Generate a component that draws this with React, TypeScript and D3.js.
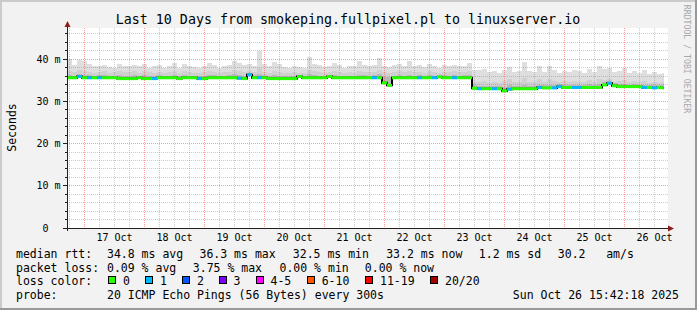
import React from "react";
import * as d3 from "d3";

// ---------- data ----------
const HOUR = 3600e3;
const startTime = Date.UTC(2025, 9, 16, 17, 0, 0);
const endTime = Date.UTC(2025, 9, 26, 17, 0, 0);
const nowTime = Date.UTC(2025, 9, 26, 15, 42, 18);
const stepHours = 2;

const titleText = "Last 10 Days from smokeping.fullpixel.pl to linuxserver.io";
const yTicks = [0, 10, 20, 30, 40];
const yTickLabels = ["0", "10 m", "20 m", "30 m", "40 m"];
const dayLabels = ["17 Oct", "18 Oct", "19 Oct", "20 Oct", "21 Oct", "22 Oct", "23 Oct", "24 Oct", "25 Oct", "26 Oct"];

// median rtt (ms) per 2h step
const median = [
  35.6, 35.6, 35.9, 35.6, 35.6, 35.6, 35.6, 35.6, 35.6, 35.6,
  35.4, 35.4, 35.4, 35.4, 35.6, 35.4, 35.4, 35.4, 35.6, 35.6,
  35.6, 35.6, 35.4, 35.6, 35.6, 35.6, 35.4, 35.4, 35.6, 35.6,
  35.6, 35.6, 35.6, 35.6, 35.5, 35.4, 36.3, 35.6, 35.6, 35.6,
  35.4, 35.4, 35.4, 35.4, 35.4, 35.4, 35.9, 35.6, 35.6, 35.6,
  35.6, 35.6, 35.9, 35.6, 35.6, 35.6, 35.6, 35.6, 35.6, 35.6,
  35.6, 35.6, 35.6, 34.4, 33.8, 35.6, 35.6, 35.6, 35.6, 35.6,
  35.6, 35.6, 35.6, 35.6, 35.8, 35.6, 35.6, 35.6, 35.6, 35.6,
  35.6, 33.1, 33.0, 33.0, 33.0, 33.0, 33.0, 32.5, 32.9, 33.0,
  33.0, 33.0, 33.0, 33.0, 33.3, 33.2, 33.2, 33.2, 33.5, 33.3,
  33.3, 33.3, 33.3, 33.3, 33.3, 33.3, 33.3, 33.9, 34.3, 33.7,
  33.5, 33.5, 33.5, 33.5, 33.5, 33.3, 33.3, 33.2, 33.3, 33.2,
];
// smoke: highest ping (ms)
const smokeMax = [
  40.0, 38.6, 39.9, 39.6, 38.8, 38.3, 38.5, 38.6, 38.2, 38.0,
  38.9, 38.5, 38.4, 38.7, 38.3, 38.8, 38.0, 38.3, 38.6, 37.9,
  38.4, 39.1, 37.9, 38.8, 38.3, 38.1, 37.9, 38.3, 39.0, 38.6,
  38.0, 38.5, 38.7, 39.6, 39.2, 38.6, 38.9, 38.4, 42.0, 38.8,
  38.3, 39.4, 38.9, 38.2, 37.9, 38.4, 38.2, 38.0, 40.6, 38.9,
  38.7, 38.1, 38.5, 39.0, 38.6, 37.9, 38.4, 38.3, 39.6, 38.6,
  38.3, 38.7, 40.2, 38.4, 38.1, 38.6, 38.9, 38.5, 39.6, 38.4,
  38.6, 38.2, 38.9, 38.4, 38.0, 38.6, 38.3, 38.7, 38.4, 38.5,
  39.0, 37.5, 37.4, 37.6, 36.9, 37.2, 36.8, 37.5, 38.2, 37.0,
  37.3, 39.4, 37.2, 36.9, 38.3, 37.0, 38.4, 37.4, 36.8, 37.3,
  36.9, 37.5, 37.1, 36.8, 37.6, 37.0, 38.3, 37.6, 37.8, 36.9,
  37.2, 37.8, 36.7, 37.1, 36.8, 37.4, 36.6, 37.0, 36.5, 36.8,
];
// smoke: upper quartile ping (ms)
const smokeMid = [
  37.2, 36.9, 37.4, 37.3, 37.0, 36.8, 36.9, 37.1, 36.8, 36.9,
  37.3, 37.0, 36.9, 37.1, 36.8, 37.2, 36.9, 36.8, 37.0, 36.7,
  36.9, 37.3, 36.8, 37.1, 36.9, 36.8, 36.7, 36.9, 37.2, 37.0,
  36.8, 36.9, 37.0, 37.4, 37.1, 36.9, 37.2, 36.9, 37.8, 37.0,
  36.8, 37.2, 37.0, 36.8, 36.7, 36.9, 36.8, 36.7, 37.5, 37.1,
  37.0, 36.8, 37.0, 37.2, 36.9, 36.7, 36.9, 36.8, 37.3, 37.0,
  36.9, 37.0, 37.5, 36.9, 36.8, 37.0, 37.1, 36.9, 37.3, 36.9,
  37.0, 36.8, 37.2, 36.9, 36.8, 37.0, 36.9, 37.1, 36.9, 37.0,
  37.2, 34.6, 34.7, 34.9, 34.4, 34.6, 34.3, 34.8, 35.2, 34.5,
  34.6, 35.5, 34.7, 34.5, 35.2, 34.6, 35.3, 34.9, 34.5, 34.8,
  34.5, 34.9, 34.7, 34.5, 35.0, 34.6, 35.4, 35.1, 35.3, 34.6,
  34.8, 35.1, 34.5, 34.8, 34.6, 34.9, 34.4, 34.7, 34.3, 34.6,
];
// smoke: pings just above the median (ms)
const smokeInner = [
  36.3, 36.1, 36.4, 36.2, 36.2, 36.1, 36.2, 36.3, 36.1, 36.1,
  36.2, 36.0, 36.1, 36.2, 36.1, 36.2, 36.0, 36.1, 36.2, 36.1,
  36.1, 36.3, 36.0, 36.2, 36.1, 36.1, 36.0, 36.1, 36.3, 36.2,
  36.1, 36.1, 36.2, 36.4, 36.3, 36.1, 36.7, 36.2, 36.5, 36.2,
  36.0, 36.2, 36.1, 36.0, 36.0, 36.1, 36.3, 36.1, 36.4, 36.2,
  36.1, 36.1, 36.3, 36.2, 36.1, 36.0, 36.1, 36.1, 36.3, 36.2,
  36.1, 36.2, 36.4, 35.9, 35.8, 36.1, 36.2, 36.1, 36.3, 36.1,
  36.2, 36.1, 36.2, 36.1, 36.2, 36.2, 36.1, 36.2, 36.1, 36.2,
  36.3, 33.8, 33.6, 33.7, 33.7, 33.6, 33.7, 33.4, 33.8, 33.6,
  33.7, 33.9, 33.6, 33.6, 34.0, 33.8, 33.9, 33.8, 34.1, 33.9,
  33.9, 34.0, 33.9, 33.8, 34.1, 33.9, 34.2, 34.6, 34.9, 34.3,
  34.1, 34.2, 34.0, 34.1, 34.0, 34.0, 33.9, 33.8, 33.9, 33.9,
];
// lost pings (of 20) per step
const lostPings = [
  0, 0, 1, 0, 1, 0, 1, 0, 0, 0,
  0, 0, 0, 0, 0, 0, 0, 1, 0, 0,
  0, 0, 0, 0, 0, 0, 1, 0, 0, 0,
  0, 0, 0, 0, 1, 0, 1, 0, 1, 0,
  0, 0, 0, 0, 0, 0, 0, 0, 0, 0,
  0, 0, 0, 0, 0, 0, 0, 0, 0, 0,
  0, 1, 0, 0, 0, 0, 0, 0, 0, 0,
  1, 0, 0, 1, 0, 0, 0, 1, 0, 0,
  0, 0, 1, 0, 0, 1, 0, 0, 1, 0,
  0, 0, 0, 0, 1, 0, 0, 1, 1, 0,
  0, 1, 1, 0, 0, 0, 0, 0, 1, 0,
  0, 0, 0, 0, 0, 1, 0, 1, 0, 0,
];

const lossLabels = ["0", "1", "2", "3", "4-5", "6-10", "11-19", "20/20"];
const lossMaxPings = [0, 1, 2, 3, 5, 10, 19, 20];
const lossColors = ["#26ff00", "#00b8ff", "#0059ff", "#7e00ff", "#ff00ff", "#ff5500", "#ff0000", "#a10000"];

const rttLegend = ["median rtt:", "34.8 ms avg", "36.3 ms max", "32.5 ms min", "33.2 ms now", "1.2 ms sd", "30.2", "am/s"];
const lossLegend = ["packet loss:", "0.09 % avg", "3.75 % max", "0.00 % min", "0.00 % now"];
const probeLegend = ["probe:", "20 ICMP Echo Pings (56 Bytes) every 300s", "Sun Oct 26 15:42:18 2025"];
const sideText = "RRDTOOL / TOBI OETIKER";
const yTitle = "Seconds";

// ---------- layout ----------
const W = 697, H = 310;
const PL = 67, PR = 667, PT = 28, PB = 228;
const MONO = "'DejaVu Sans Mono', 'Liberation Mono', monospace";
const rttX = [16, 107, 199.5, 292.8, 386.2, 478.8, 557.8, 606.2];
const lossX = [16, 107, 192.8, 279.5, 364.8];
const probeX = [16, 107, 512.8];
const boxX = [108.5, 145.5, 182.5, 219, 256, 307.2, 365.5, 430.5];

const snap = (v: number) => Math.round(v - 0.5) + 0.5;

export default function App() {
  const x = d3.scaleUtc().domain([startTime, endTime]).range([PL, PR]);
  const y = d3.scaleLinear().domain([0, 200 / 4.22]).range([PB, PT]);

  const minorT = d3.utcHour.every(6)!.range(new Date(startTime), new Date(endTime)).filter((d) => d.getUTCHours() !== 0);
  const majorT = d3.utcDay.range(new Date(startTime), new Date(endTime));
  const noonT = majorT.map((d) => new Date(+d + 12 * HOUR));
  const minorY = d3.range(2, 47.3, 2).filter((v) => v % 10 !== 0);

  const steps = median.map((m, i) => {
    const t0 = startTime + i * stepHours * HOUR;
    const t1 = Math.min(startTime + (i + 1) * stepHours * HOUR, nowTime);
    return { i, x0: x(t0), x1: x(t1), m };
  });

  const lossColor = (n: number) => {
    const k = lossMaxPings.findIndex((mx) => n <= mx);
    return lossColors[k < 0 ? lossColors.length - 1 : k];
  };

  const stepPts: [number, number][] = steps.map((s) => [s.x0, y(s.m)]);
  stepPts.push([steps[steps.length - 1].x1, y(median[median.length - 1])]);
  const stepLine = d3.line().curve(d3.curveStepAfter)(stepPts) || "";

  const lineY = (v: number) => snap(y(v));

  return (
    <svg width={W} height={H} style={{ position: "absolute", left: 0, top: 0 }} fontFamily={MONO}>
      <rect x={0} y={0} width={W} height={H} fill="#f2f2f2" />
      <rect x={0} y={0} width={W} height={2} fill="#cbcbcb" />
      <rect x={0} y={0} width={2} height={H} fill="#cbcbcb" />
      <rect x={0} y={H - 2} width={W} height={2} fill="#999999" />
      <rect x={W - 2} y={0} width={2} height={H} fill="#999999" />

      <text x={348} y={23.5} fontSize={13.3} textAnchor="middle" fill="#000">{titleText}</text>
      <text transform={`translate(684,59) rotate(90)`} fontSize={8.2} textAnchor="middle" fill="#a8a8a8">{sideText}</text>
      <text transform={`translate(15.5,127.5) rotate(-90)`} fontSize={11.5} textAnchor="middle" fill="#000">{yTitle}</text>

      {/* canvas */}
      <rect x={PL} y={PT} width={PR - PL + 1} height={PB - PT} fill="#ffffff" />

      {/* smoke */}
      <g shapeRendering="crispEdges">
        {steps.map((s) => (
          <rect key={"a" + s.i} x={s.x0} y={y(smokeMax[s.i])} width={s.x1 - s.x0} height={Math.max(0, y(s.m) - y(smokeMax[s.i]))} fill="#dedede" />
        ))}
        {steps.map((s) => (
          <rect key={"b" + s.i} x={s.x0} y={y(smokeMid[s.i])} width={s.x1 - s.x0} height={Math.max(0, y(s.m) - y(smokeMid[s.i]))} fill="#d0d0d0" />
        ))}
        {steps.map((s) => (
          <rect key={"c" + s.i} x={s.x0} y={y(smokeInner[s.i])} width={s.x1 - s.x0} height={Math.max(0, y(s.m) - y(smokeInner[s.i]))} fill="#b9b9b9" />
        ))}
      </g>

      {/* grid */}
      <g strokeWidth={1} strokeDasharray="1,1" shapeRendering="crispEdges">
        {minorT.map((d, k) => (
          <line key={"mv" + k} x1={snap(x(d))} x2={snap(x(d))} y1={PT} y2={PB} stroke="rgba(128,128,128,0.4)" />
        ))}
        {minorY.map((v, k) => (
          <line key={"mh" + k} x1={PL} x2={PR + 1} y1={lineY(v)} y2={lineY(v)} stroke="rgba(128,128,128,0.4)" />
        ))}
        {majorT.map((d, k) => (
          <line key={"Mv" + k} x1={snap(x(d))} x2={snap(x(d))} y1={PT} y2={PB} stroke="rgba(255,60,60,0.5)" />
        ))}
        {yTicks.filter((v) => v > 0).map((v, k) => (
          <line key={"Mh" + k} x1={PL} x2={PR + 1} y1={lineY(v)} y2={lineY(v)} stroke="rgba(255,60,60,0.5)" />
        ))}
      </g>

      {/* median line */}
      <path d={stepLine} fill="none" stroke="#000" strokeWidth={2} />
      {steps.map((s) => (
        <line key={"m" + s.i} x1={s.x0} x2={s.x1} y1={y(s.m)} y2={y(s.m)} stroke={lossColor(lostPings[s.i])} strokeWidth={3} />
      ))}

      {/* axes */}
      <g shapeRendering="crispEdges" stroke="#202020">
        <line x1={PL - 4} x2={PR + 2} y1={PB + 0.5} y2={PB + 0.5} />
        <line x1={PL + 0.5} x2={PL + 0.5} y1={PB + 3} y2={PT - 2} />
        {yTicks.map((v, k) => (
          <line key={"t" + k} x1={PL - 4} x2={PL} y1={lineY(v)} y2={lineY(v)} />
        ))}
        {minorY.map((v, k) => (
          <line key={"tm" + k} x1={PL - 2} x2={PL} y1={lineY(v)} y2={lineY(v)} />
        ))}
      </g>
      <path d={`M${PL - 2.5},${PT - 1} L${PL + 0.5},${PT - 7} L${PL + 3.5},${PT - 1} Z`} fill="#8c1c1c" />
      <path d={`M${PR + 1},${PB - 2.5} L${PR + 7},${PB + 0.5} L${PR + 1},${PB + 3.5} Z`} fill="#8c1c1c" />

      {/* y labels */}
      {yTicks.map((v, k) => (
        <text key={"yl" + k} x={v === 0 ? 48.5 : 60.5} y={lineY(v) + 3.5} fontSize={10} textAnchor="end" fill="#000">
          {yTickLabels[k]}
        </text>
      ))}
      {/* x labels */}
      {noonT.map((d, k) => (
        <text key={"xl" + k} x={x(d)} y={241} fontSize={10} textAnchor="middle" fill="#000">
          {dayLabels[k]}
        </text>
      ))}

      {/* legend */}
      {rttLegend.map((t, k) => (
        <text key={"r" + k} x={rttX[k]} y={258} fontSize={11.5} fill="#000">{t}</text>
      ))}
      {lossLegend.map((t, k) => (
        <text key={"l" + k} x={lossX[k]} y={271.7} fontSize={11.5} fill="#000">{t}</text>
      ))}
      <text x={16} y={285.4} fontSize={11.5} fill="#000">loss color:</text>
      {lossLabels.map((t, k) => (
        <g key={"lc" + k}>
          <rect x={boxX[k]} y={276.5} width={7} height={7} fill={lossColors[k]} stroke="#000" strokeWidth={1} shapeRendering="crispEdges" />
          <text x={boxX[k] + 14.5} y={285.4} fontSize={11.5} fill="#000">{t}</text>
        </g>
      ))}
      {probeLegend.map((t, k) => (
        <text key={"p" + k} x={probeX[k]} y={299.1} fontSize={11.5} fill="#000">{t}</text>
      ))}
    </svg>
  );
}
